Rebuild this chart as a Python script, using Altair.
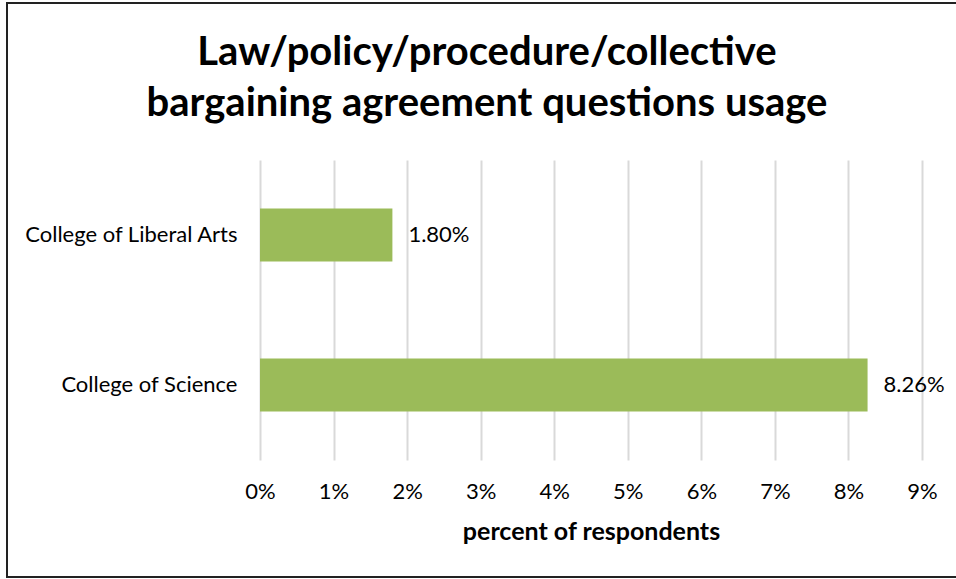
import altair as alt
import pandas as pd

colleges = ["College of Liberal Arts", "College of Science"]
values = [1.80, 8.26]
labels = ["1.80%", "8.26%"]

df = pd.DataFrame({"college": colleges, "pct": [v / 100 for v in values], "label": labels})

FONT = "Lato"

base = alt.Chart(df)

bars = base.mark_bar(color="#9BBB59").encode(
    y=alt.Y("college:N", sort=colleges, title=None,
            scale=alt.Scale(paddingInner=0.647, paddingOuter=0.3235),
            axis=alt.Axis(domain=False, ticks=False, labelFontSize=22, labelFont=FONT,
                          labelColor="#000000", labelPadding=23, labelLimit=400)),
    x=alt.X("pct:Q", title="percent of respondents",
            scale=alt.Scale(domain=[0, 0.09], nice=False),
            axis=alt.Axis(format=".0%", values=[i / 100 for i in range(10)],
                          domain=False, ticks=False, grid=True, gridColor="#d9d9d9",
                          gridWidth=2, labelFontSize=22, labelFont=FONT, labelColor="#000000",
                          labelFlush=False, labelPadding=21, titleFontSize=25, titleFont=FONT,
                          titleFontWeight="bold", titleColor="#000000", titlePadding=17)),
)

text = base.mark_text(align="left", dx=16, fontSize=22, font=FONT, color="#000000").encode(
    y=alt.Y("college:N", sort=colleges),
    x="pct:Q",
    text="label:N",
)

border = alt.Chart(pd.DataFrame({"a": [0]})).mark_rect(
    fill=None, filled=False, stroke="#222222", strokeWidth=2
).encode(
    x=alt.value(-253), x2=alt.value(710), y=alt.value(-157), y2=alt.value(417)
)

chart = alt.layer(bars, text, border).properties(
    width=662, height=300,
    padding={"left": 260, "top": 160, "right": 34, "bottom": 119},
    autosize=alt.AutoSizeParams(type="none"),
    title=alt.TitleParams(
        ["Law/policy/procedure/collective", "bargaining agreement questions usage"],
        fontSize=40, font=FONT, fontWeight="bold", color="#000000",
        lineHeight=51, anchor="middle", dx=-104, offset=30, dy=152,
    ),
).configure_view(stroke=None)

chart.save("out.html", embed_options={"renderer": "svg", "actions": False})
